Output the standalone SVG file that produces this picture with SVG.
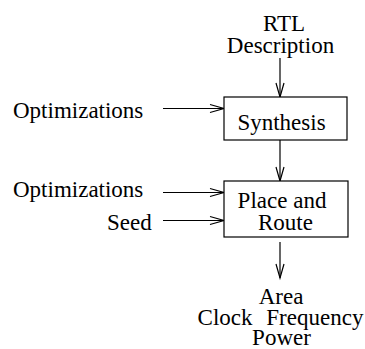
<svg xmlns="http://www.w3.org/2000/svg" width="365" height="349" viewBox="0 0 365 349">
  <style>
    .lbl { font-family: 'Liberation Serif', 'Times New Roman', 'DejaVu Serif', serif; font-size: 23px; fill: #000; }
    .mid { text-anchor: middle; }
    .box { fill: #fff; stroke: #000; stroke-width: 1.2; }
    .wire { fill: none; stroke: #000; stroke-width: 1.2; marker-end: url(#vhead); }
  </style>
  <defs>
    <marker id="vhead" markerUnits="userSpaceOnUse" markerWidth="16" markerHeight="10" refX="14" refY="4" orient="auto" overflow="visible">
      <path d="M0,0 L14,4 L0,8" fill="none" stroke="#000" stroke-width="1.2"/>
    </marker>
  </defs>

  <g id="connectors">
    <line class="wire" x1="280" y1="58" x2="280" y2="97"/>
    <line class="wire" x1="280" y1="140" x2="280" y2="181"/>
    <line class="wire" x1="280" y1="242" x2="280" y2="278"/>
    <line class="wire" x1="163" y1="108.5" x2="224" y2="108.5"/>
    <line class="wire" x1="163" y1="192.5" x2="224" y2="192.5"/>
    <line class="wire" x1="163" y1="220.5" x2="224" y2="220.5"/>
  </g>

  <g id="rtl-description" class="lbl" font-family="Liberation Serif, serif">
    <text class="mid" x="284" y="31">RTL</text>
    <text class="mid" x="280.5" y="53">Description</text>
  </g>

  <g id="synthesis">
    <rect class="box" x="224" y="97" width="123" height="43"/>
    <text class="lbl mid" x="281.5" y="130">Synthesis</text>
  </g>

  <g id="place-and-route">
    <rect class="box" x="224" y="181" width="124" height="56"/>
    <text class="lbl mid" x="282" y="208">Place and</text>
    <text class="lbl mid" x="285.5" y="230">Route</text>
  </g>

  <g id="optimizations-1">
    <text class="lbl" x="13" y="118">Optimizations</text>
  </g>

  <g id="optimizations-2">
    <text class="lbl" x="13" y="197">Optimizations</text>
  </g>

  <g id="seed">
    <text class="lbl" x="107" y="230">Seed</text>
  </g>

  <g id="results">
    <text class="lbl mid" x="281" y="304">Area</text>
    <text class="lbl mid" x="280.5" y="325" word-spacing="8">Clock Frequency</text>
    <text class="lbl mid" x="281.5" y="345">Power</text>
  </g>
</svg>
